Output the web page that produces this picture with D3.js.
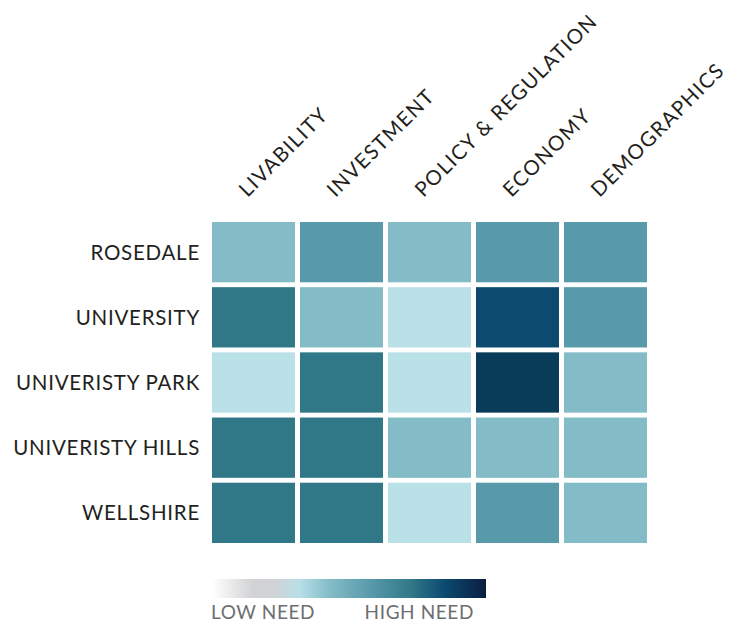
<!DOCTYPE html>
<html>
<head>
<meta charset="utf-8">
<script src="https://cdn.jsdelivr.net/npm/d3@7"></script>
<style>
  html, body { margin: 0; padding: 0; background: #fff; }
  svg text { font-family: Lato, "Open Sans", sans-serif; }
</style>
</head>
<body>
<svg id="chart" width="751" height="625"></svg>
<script>
const neighborhoods = ["ROSEDALE", "UNIVERSITY", "UNIVERISTY PARK", "UNIVERISTY HILLS", "WELLSHIRE"];
const factors = ["LIVABILITY", "INVESTMENT", "POLICY & REGULATION", "ECONOMY", "DEMOGRAPHICS"];
// need level per neighborhood (rows) and factor (columns), 1 = low, 6 = high
const rosedale   = [2, 3, 2, 3, 3];
const university = [4, 2, 1, 5, 3];
const univPark   = [1, 4, 1, 6, 2];
const univHills  = [4, 4, 2, 2, 2];
const wellshire  = [4, 4, 1, 3, 2];
const levels = [1, 2, 3, 4, 5, 6];
const levelColors = ["#bae0e8", "#83bcc7", "#5899aa", "#307788", "#0c4a70", "#093c59"];
const legendLabels = ["LOW NEED", "HIGH NEED"];

const rows = [rosedale, university, univPark, univHills, wellshire];
const cells = [];
rows.forEach((r, i) => r.forEach((v, j) => cells.push({row: neighborhoods[i], col: factors[j], value: v})));

const svg = d3.select("#chart");
const x = d3.scaleBand().domain(factors).range([212, 647]).paddingInner(0.057).paddingOuter(0);
const y = d3.scaleBand().domain(neighborhoods).range([222, 543]).paddingInner(0.075).paddingOuter(0);
const color = d3.scaleOrdinal().domain(levels).range(levelColors);

svg.append("g").selectAll("rect").data(cells).join("rect")
  .attr("x", d => x(d.col))
  .attr("y", d => y(d.row))
  .attr("width", x.bandwidth())
  .attr("height", y.bandwidth())
  .attr("fill", d => color(d.value));

// row labels
svg.append("g").selectAll("text").data(neighborhoods).join("text")
  .attr("x", 200)
  .attr("y", d => y(d) + y.bandwidth() / 2)
  .attr("dy", "0.36em")
  .attr("text-anchor", "end")
  .attr("font-size", 20.5)
  .attr("letter-spacing", 0.75)
  .attr("fill", "#231f20")
  .text(d => d);

// column labels
svg.append("g").selectAll("text").data(factors).join("text")
  .attr("transform", d => `translate(${x(d) + x.bandwidth() / 2 - 6},198) rotate(-45)`)
  .attr("text-anchor", "start")
  .attr("font-size", 20.5)
  .attr("letter-spacing", 1.3)
  .attr("fill", "#231f20")
  .text(d => d);

// legend
const defs = svg.append("defs");
const grad = defs.append("linearGradient").attr("id", "needGrad").attr("x1", "0%").attr("x2", "100%");
const gradStops = [
  [0, "#ffffff"], [0.15, "#d1d2d4"], [0.23, "#d0d3d6"], [0.32, "#b8dfe8"],
  [0.43, "#83bcc7"], [0.58, "#5899aa"], [0.73, "#307788"], [0.85, "#0c4a70"], [1, "#0b1d3f"]
];
grad.selectAll("stop").data(gradStops).join("stop")
  .attr("offset", d => d[0]).attr("stop-color", d => d[1]);

const lx = d3.scaleLinear().domain([0, 1]).range([212, 486]);
svg.append("rect")
  .attr("x", lx(0)).attr("y", 579)
  .attr("width", lx(1) - lx(0)).attr("height", 19)
  .attr("fill", "url(#needGrad)");

svg.append("g").selectAll("text").data(legendLabels).join("text")
  .attr("x", (d, i) => i === 0 ? lx(0) - 1 : lx(1) - 12)
  .attr("y", 619)
  .attr("text-anchor", (d, i) => i === 0 ? "start" : "end")
  .attr("font-size", 19)
  .attr("letter-spacing", 0.6)
  .attr("fill", "#6d6e70")
  .text(d => d);
</script>
</body>
</html>
